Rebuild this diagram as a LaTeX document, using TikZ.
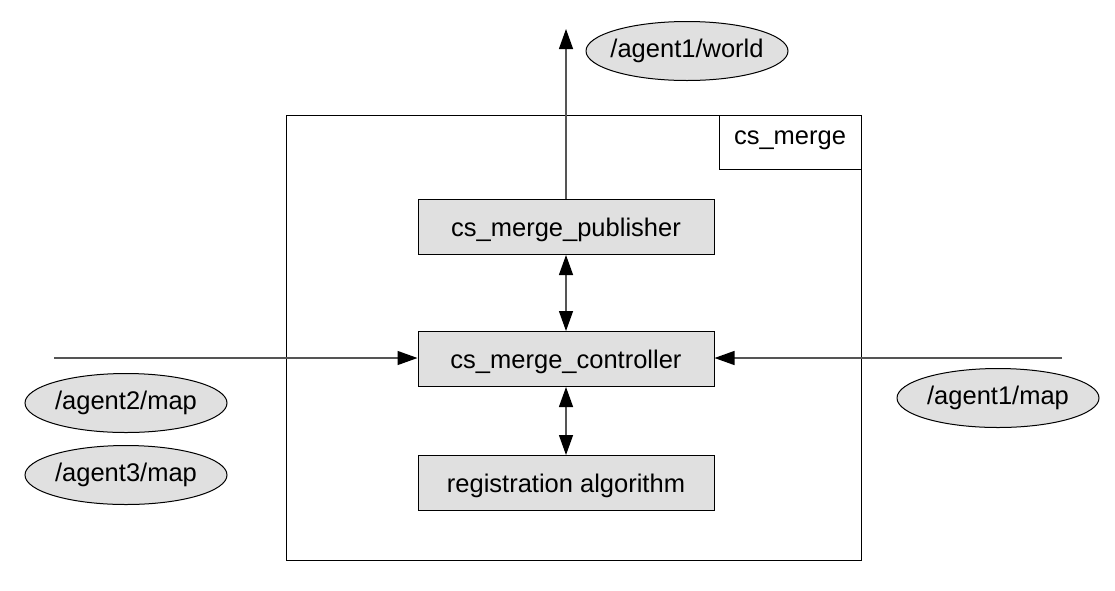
\documentclass[tikz,border=0pt]{standalone}
\usepackage{fontspec}
\setmainfont{Liberation Sans}
\usetikzlibrary{shapes.geometric,arrows.meta}
\definecolor{boxfill}{HTML}{E0E0E0}
\definecolor{linegray}{HTML}{555555}
\begin{document}
\begin{tikzpicture}[x=1pt,y=-1pt,
  every node/.style={font=\fontsize{25.5}{30}\selectfont},
  module/.style={draw=black,fill=boxfill,line width=1pt,minimum width=296pt,minimum height=55pt,inner sep=0pt,text depth=0pt},
  topic/.style={draw=black,ellipse,fill=boxfill,line width=1pt,minimum width=202pt,minimum height=59pt,inner ysep=0pt,inner xsep=-20pt},
  frame/.style={draw=black,line width=1pt,inner sep=0pt},
  conn/.style={draw=linegray,line width=1.3pt},
  tip/.style={-{Triangle[length=20pt,width=14pt,color=black]}},
  bitip/.style={{Triangle[length=20pt,width=14pt,color=black]}-{Triangle[length=20pt,width=14pt,color=black]}}]
\useasboundingbox (0,0) rectangle (1115,590);
\node[frame,minimum width=575pt,minimum height=445pt] (outer) at (573.5,337.5) {};
\node[frame,minimum width=142pt,minimum height=54pt] (label) at (790,142) {};
\node[text depth=0pt] (labeltext) at (790,138) {cs\_merge};
\node[module] (pub) at (566,227) {cs\_merge\_publisher};
\node[module] (ctrl) at (566,359) {cs\_merge\_controller};
\node[module] (reg) at (566,483) {registration algorithm};
\node[topic] (world) at (687,51) {/agent1/world};
\node[topic] (a2) at (126,403) {/agent2/map};
\node[topic] (a3) at (126,475) {/agent3/map};
\node[topic] (a1) at (998,398) {/agent1/map};
\coordinate (topend) at (566,29);
\coordinate (leftstart) at (54,358);
\coordinate (rightstart) at (1062,358);
\draw[conn,tip] (pub.north) -- (topend);
\draw[conn,bitip] (pub.south) -- (ctrl.north);
\draw[conn,bitip] (ctrl.south) -- (reg.north);
\draw[conn,tip] (leftstart) -- (ctrl.west |- leftstart);
\draw[conn,tip] (rightstart) -- (ctrl.east |- rightstart);
\end{tikzpicture}
\end{document}
